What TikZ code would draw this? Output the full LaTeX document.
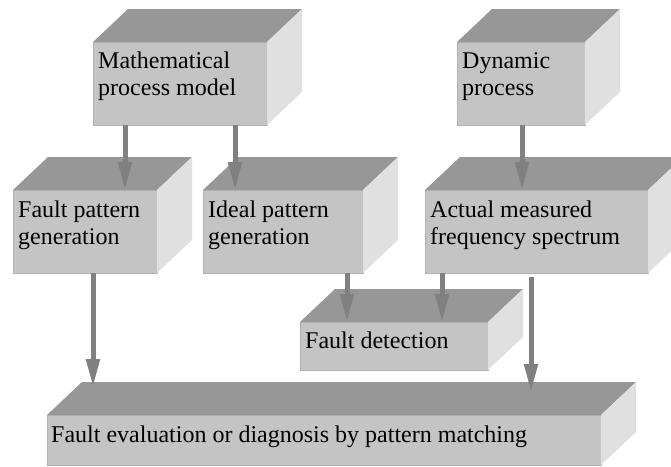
\documentclass[tikz,border=0pt]{standalone}
\usepackage{fontspec}
\setmainfont{Liberation Serif}
\usetikzlibrary{arrows.meta}
\definecolor{frontc}{HTML}{C4C4C4}
\definecolor{topc}{HTML}{979797}
\definecolor{sidec}{HTML}{E0E0E0}
\definecolor{edgec}{HTML}{B2B2B2}
\definecolor{arrc}{HTML}{808080}
\tikzset{
  front/.style={fill=frontc, draw=edgec, line width=0.8pt, inner sep=0pt, outer sep=0pt, anchor=north west},
  topface/.style={fill=topc},
  sideface/.style={fill=sidec},
  lbl/.style={anchor=base west, align=left, inner sep=0pt, font=\fontsize{24}{27}\selectfont},
  arr/.style={draw=arrc, line width=5pt, -{Triangle[length=28pt,width=13pt]}, arrc},
}
\newcommand{\cubefaces}[1]{%
  \fill[topface] (#1.north west) -- ([shift={(35,-33)}]#1.north west) -- ([shift={(35,-33)}]#1.north east) -- (#1.north east) -- cycle;
  \fill[sideface] (#1.north east) -- ([shift={(35,-33)}]#1.north east) -- ([shift={(35,-33)}]#1.south east) -- (#1.south east) -- cycle;
}
\begin{document}
\begin{tikzpicture}[x=1pt,y=-1pt]
\useasboundingbox (0,0) rectangle (671,466);
% boxes
\node[front, minimum width=174pt, minimum height=83pt] (math) at (93,42) {};
\cubefaces{math}
\node[lbl] at ([shift={(5,53)}]math.north west) {Mathematical\\process model};

\node[front, minimum width=128pt, minimum height=83pt] (dyn) at (457,42) {};
\cubefaces{dyn}
\node[lbl] at ([shift={(5,53)}]dyn.north west) {Dynamic\\process};

\node[front, minimum width=144pt, minimum height=83pt] (fpg) at (13,190) {};
\cubefaces{fpg}
\node[lbl] at ([shift={(5,54)}]fpg.north west) {Fault pattern\\generation};

\node[front, minimum width=160pt, minimum height=83pt] (ipg) at (203,190) {};
\cubefaces{ipg}
\node[lbl] at ([shift={(5,54)}]ipg.north west) {Ideal pattern\\generation};

\node[front, minimum width=223pt, minimum height=83pt] (act) at (425,190) {};
\cubefaces{act}
\node[lbl] at ([shift={(5,54)}]act.north west) {Actual measured\\frequency spectrum};

\node[front, minimum width=188pt, minimum height=48pt] (det) at (300,322) {};
\cubefaces{det}
\node[lbl] at ([shift={(5,26)}]det.north west) {Fault detection};

\node[front, minimum width=554pt, minimum height=50pt] (eval) at (47,415) {};
\cubefaces{eval}
\node[lbl] at ([shift={(4,27)}]eval.north west) {Fault evaluation or diagnosis by pattern matching};

% arrow start points
\coordinate (a1) at ([xshift=32pt]math.south west);
\coordinate (a2) at ([xshift=142pt]math.south west);
\coordinate (a3) at ([xshift=65pt]dyn.south west);
\coordinate (a4) at ([xshift=144pt]ipg.south west);
\coordinate (a5) at ([xshift=17pt]act.south west);
\coordinate (a6) at ([shift={(106,4)}]act.south west);
\coordinate (a7) at ([xshift=80pt]fpg.south west);

\draw[arr] (a1) -- (a1 |- fpg.north);
\draw[arr] (a2) -- (a2 |- ipg.north);
\draw[arr] (a3) -- (a3 |- act.north);
\draw[arr] (a4) -- (a4 |- det.north);
\draw[arr] (a5) -- (a5 |- det.north);
\draw[arr] (a6) -- ([yshift=23pt]a6 |- eval.north);
\draw[arr] (a7) -- ([yshift=28pt]a7 |- eval.north);
\end{tikzpicture}
\end{document}
